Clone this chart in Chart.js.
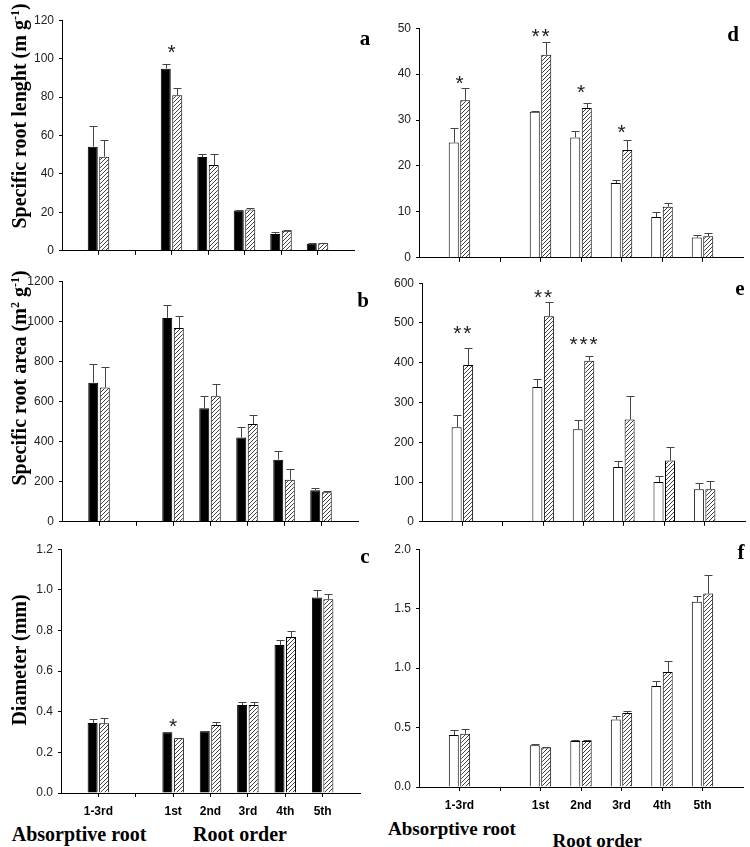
<!DOCTYPE html>
<html>
<head>
<meta charset="utf-8">
<script src="https://cdn.jsdelivr.net/npm/chart.js@4.4.1/dist/chart.umd.min.js"></script>
<style>
  html, body { margin: 0; padding: 0; background: #fff; }
  #fig { position: relative; width: 750px; height: 847px; overflow: hidden; }
  #fig canvas { position: absolute; }
  .t { position: absolute; font-family: 'Liberation Serif', 'Times New Roman', serif; font-weight: bold; color: #000; white-space: nowrap; line-height: 1; z-index: 2; }
  .yt { transform: translate(-50%, -50%) rotate(-90deg); font-size: 20px; }
  .ct { transform: translate(-50%, -50%); }
  sup { font-size: 0.6em; vertical-align: 0.6em; line-height: 0; }
</style>
</head>
<body>
<div id="fig">
  <div class="t yt" style="left:19px;top:116px">Specific root lenght (m g<sup>-1</sup>)</div>
  <div class="t yt" style="left:19px;top:378px">Specific root area (m<sup>2</sup> g<sup>-1</sup>)</div>
  <div class="t yt" style="left:19px;top:660px">Diameter (mm)</div>

  <div class="t ct" style="left:365px;top:38px;font-size:21px">a</div>
  <div class="t ct" style="left:733px;top:34px;font-size:21px">d</div>
  <div class="t ct" style="left:363px;top:300px;font-size:21px">b</div>
  <div class="t ct" style="left:740px;top:288px;font-size:21px">e</div>
  <div class="t ct" style="left:365px;top:556px;font-size:21px">c</div>
  <div class="t ct" style="left:741px;top:552px;font-size:21px">f</div>

  <div class="t ct" style="left:79px;top:834px;font-size:20px">Absorptive root</div>
  <div class="t ct" style="left:240px;top:834px;font-size:20px">Root order</div>
  <div class="t ct" style="left:452px;top:828px;font-size:19px">Absorptive root</div>
  <div class="t ct" style="left:597px;top:840px;font-size:19px">Root order</div>
</div>
<script>
// root classes on the x axis
const rootGroups = ['1-3rd', '1st', '2nd', '3rd', '4th', '5th'];

// specific root length (a: black / hatched, d: white / hatched)
const srlLeftCtrl = [54.2, 94.8, 48.8, 21.0, 8.8, 3.7];
const srlLeftCtrlSE = [11.0, 2.3, 1.5, 0.3, 0.8, 0.2];
const srlLeftTrt = [49.0, 81.0, 44.6, 21.5, 10.4, 3.9];
const srlLeftTrtSE = [8.7, 3.5, 5.6, 0.9, 0.3, 0.2];
const srlRightCtrl = [25.1, 31.8, 26.2, 16.3, 8.9, 4.4];
const srlRightCtrlSE = [3.2, 0.2, 1.5, 0.6, 1.0, 0.5];
const srlRightTrt = [34.3, 44.2, 32.6, 23.5, 11.1, 4.7];
const srlRightTrtSE = [2.7, 2.9, 1.2, 2.2, 0.9, 0.6];

// specific root area (b, e)
const sraLeftCtrl = [694, 1017, 566, 420, 310, 157];
const sraLeftCtrlSE = [94, 62, 60, 52, 44, 13];
const sraLeftTrt = [670, 966, 626, 488, 210, 147];
const sraLeftTrtSE = [100, 59, 60, 46, 52, 5];
const sraRightCtrl = [238, 339, 233, 138, 100, 82];
const sraRightCtrlSE = [30, 19, 24, 16, 15, 15];
const sraRightTrt = [394, 517, 405, 257, 154, 82];
const sraRightTrtSE = [42, 36, 12, 60, 33, 20];

// diameter (c, f)
const diaLeftCtrl = [0.344, 0.299, 0.304, 0.433, 0.728, 0.962];
const diaLeftCtrlSE = [0.020, 0.003, 0.002, 0.013, 0.024, 0.038];
const diaLeftTrt = [0.343, 0.270, 0.335, 0.433, 0.768, 0.954];
const diaLeftTrtSE = [0.024, 0.002, 0.016, 0.017, 0.029, 0.024];
const diaRightCtrl = [0.437, 0.351, 0.387, 0.567, 0.849, 1.557];
const diaRightCtrlSE = [0.039, 0.009, 0.011, 0.028, 0.042, 0.047];
const diaRightTrt = [0.448, 0.332, 0.387, 0.622, 0.968, 1.627];
const diaRightTrtSE = [0.044, 0.003, 0.011, 0.020, 0.089, 0.157];

// y tick labels
const srlLeftTicks = [0, 20, 40, 60, 80, 100, 120];
const srlRightTicks = [0, 10, 20, 30, 40, 50];
const sraLeftTicks = [0, 200, 400, 600, 800, 1000, 1200];
const sraRightTicks = [0, 100, 200, 300, 400, 500, 600];
const diaLeftTicks = [0.0, 0.2, 0.4, 0.6, 0.8, 1.0, 1.2];
const diaRightTicks = [0.0, 0.5, 1.0, 1.5, 2.0];

// significance marks: [group index, mark, height in data units]
const srlLeftStars = [[1, '*', 105]];
const srlRightStars = [[0, '*', 38.8], [1, '**', 48.9], [2, '*', 36.8], [3, '*', 28]];
const sraLeftStars = [];
const sraRightStars = [[0, '**', 482], [1, '**', 574], [2, '***', 454]];
const diaLeftStars = [[1, '*', 0.346]];
const diaRightStars = [];

// axis slots: empty edge, absorptive root, gap, root orders, empty edge
const axisSlots = ['', rootGroups[0], ' ', ...rootGroups.slice(1), ''];
const slotIndex = [1, 3, 4, 5, 6, 7];
const toSlots = arr => {
  const out = axisSlots.map(() => null);
  arr.forEach((v, i) => { out[slotIndex[i]] = v; });
  return out;
};

function makeHatch() {
  const p = document.createElement('canvas');
  p.width = 4; p.height = 4;
  const c = p.getContext('2d');
  c.fillStyle = '#fff';
  c.fillRect(0, 0, 4, 4);
  c.strokeStyle = '#2a2a2a';
  c.lineWidth = 0.9;
  c.beginPath();
  c.moveTo(0, 4); c.lineTo(4, 0);
  c.moveTo(-1, 1); c.lineTo(1, -1);
  c.moveTo(3, 5); c.lineTo(5, 3);
  c.stroke();
  return c.createPattern(p, 'repeat');
}
const hatch = makeHatch();

// upper error whiskers
const errorBars = {
  id: 'errorBars',
  afterDatasetsDraw(chart) {
    const ctx = chart.ctx;
    const y = chart.scales.y;
    chart.data.datasets.forEach((ds, di) => {
      chart.getDatasetMeta(di).data.forEach((bar, i) => {
        const v = ds.data[i], e = ds.se[i];
        if (v == null || e == null) return;
        const x = Math.round(bar.x) + 0.5;
        const yTop = Math.round(y.getPixelForValue(v + e)) + 0.5;
        ctx.save();
        ctx.strokeStyle = '#444';
        ctx.lineWidth = 1;
        ctx.beginPath();
        ctx.moveTo(x, bar.y);
        ctx.lineTo(x, yTop);
        ctx.moveTo(x - 4, yTop);
        ctx.lineTo(x + 4, yTop);
        ctx.stroke();
        ctx.restore();
      });
    });
  }
};

// asterisks above the bar pairs
const stars = {
  id: 'stars',
  afterDraw(chart) {
    const list = chart.options.plugins.stars.list || [];
    const ctx = chart.ctx;
    ctx.save();
    ctx.font = '21px Arial';
    ctx.fillStyle = '#222';
    ctx.textAlign = 'center';
    const m = ctx.measureText('*');
    const shift = (m.actualBoundingBoxAscent - m.actualBoundingBoxDescent) / 2;
    list.forEach(([g, mark, val]) => {
      const cx = chart.scales.x.getPixelForValue(slotIndex[g]);
      const cy = chart.scales.y.getPixelForValue(val);
      const n = mark.length, gap = 10;
      for (let k = 0; k < n; k++) {
        ctx.fillText('*', cx + (k - (n - 1) / 2) * gap, cy + shift);
      }
    });
    ctx.restore();
  }
};

const fig = document.getElementById('fig');

function panel(p) {
  const colLeft = p.col === 0 ? 0 : 375;
  const padTop = 9;
  const xH = p.labels ? 26 : 8;
  const top = p.area.top - padTop;
  const h = p.area.bottom - top + xH;
  const cv = document.createElement('canvas');
  cv.width = 375; cv.height = h;
  cv.style.left = colLeft + 'px';
  cv.style.top = top + 'px';
  cv.style.width = '375px';
  cv.style.height = h + 'px';
  fig.appendChild(cv);

  const ticks = p.ticks;
  const cp = 23 / ((p.area.right - p.area.left) / 8);

  new Chart(cv, {
    type: 'bar',
    data: {
      labels: axisSlots,
      datasets: [
        {
          data: toSlots(p.ctrl), se: toSlots(p.ctrlSE),
          backgroundColor: p.col === 0 ? '#000' : '#fff',
          borderColor: '#000', borderWidth: 1,
          categoryPercentage: cp, barPercentage: 0.87
        },
        {
          data: toSlots(p.trt), se: toSlots(p.trtSE),
          backgroundColor: hatch,
          borderColor: '#000', borderWidth: 1,
          categoryPercentage: cp, barPercentage: 0.87
        }
      ]
    },
    options: {
      responsive: false,
      animation: false,
      layout: { padding: { top: padTop, right: colLeft + 375 - p.area.right, left: 0, bottom: 0 } },
      plugins: {
        legend: { display: false },
        tooltip: { enabled: false },
        stars: { list: p.stars }
      },
      scales: {
        x: {
          type: 'category',
          offset: false,
          grid: {
            offset: false,
            drawOnChartArea: false,
            tickLength: 4,
            color: c => (c.index === 0 || c.index === axisSlots.length - 1) ? 'rgba(0,0,0,0)' : '#000'
          },
          border: { color: '#000', width: 1 },
          ticks: {
            display: p.labels,
            autoSkip: false,
            maxRotation: 0,
            color: '#000',
            padding: 7,
            font: { family: 'Arial, "Liberation Sans", sans-serif', weight: 'bold', size: 12 }
          },
          afterFit: s => { s.height = xH; }
        },
        y: {
          min: ticks[0],
          max: ticks[ticks.length - 1],
          grid: { drawOnChartArea: false, tickLength: 3, color: '#000' },
          border: { color: '#000', width: 1 },
          ticks: {
            stepSize: ticks[1] - ticks[0],
            padding: 5,
            color: '#222',
            font: { family: '"Liberation Sans Narrow", "Arial Narrow", Arial, sans-serif', size: 12 },
            callback: v => p.decimals ? Number(v).toFixed(p.decimals) : v
          },
          afterFit: s => { s.width = p.area.left - colLeft; }
        }
      }
    },
    plugins: [errorBars, stars]
  });
}

panel({ col: 0, area: { left: 62, right: 354, top: 17, bottom: 255 }, labels: false,
  ctrl: srlLeftCtrl, ctrlSE: srlLeftCtrlSE, trt: srlLeftTrt, trtSE: srlLeftTrtSE,
  ticks: srlLeftTicks, stars: srlLeftStars });
panel({ col: 1, area: { left: 419, right: 743, top: 25, bottom: 262 }, labels: false,
  ctrl: srlRightCtrl, ctrlSE: srlRightCtrlSE, trt: srlRightTrt, trtSE: srlRightTrtSE,
  ticks: srlRightTicks, stars: srlRightStars });
panel({ col: 0, area: { left: 62, right: 358, top: 278, bottom: 526 }, labels: false,
  ctrl: sraLeftCtrl, ctrlSE: sraLeftCtrlSE, trt: sraLeftTrt, trtSE: sraLeftTrtSE,
  ticks: sraLeftTicks, stars: sraLeftStars });
panel({ col: 1, area: { left: 422, right: 745, top: 280, bottom: 526 }, labels: false,
  ctrl: sraRightCtrl, ctrlSE: sraRightCtrlSE, trt: sraRightTrt, trtSE: sraRightTrtSE,
  ticks: sraRightTicks, stars: sraRightStars });
panel({ col: 0, area: { left: 61, right: 360, top: 546, bottom: 793 }, labels: true, decimals: 1,
  ctrl: diaLeftCtrl, ctrlSE: diaLeftCtrlSE, trt: diaLeftTrt, trtSE: diaLeftTrtSE,
  ticks: diaLeftTicks, stars: diaLeftStars });
panel({ col: 1, area: { left: 419, right: 745, top: 546, bottom: 787 }, labels: true, decimals: 1,
  ctrl: diaRightCtrl, ctrlSE: diaRightCtrlSE, trt: diaRightTrt, trtSE: diaRightTrtSE,
  ticks: diaRightTicks, stars: diaRightStars });
</script>
</body>
</html>
